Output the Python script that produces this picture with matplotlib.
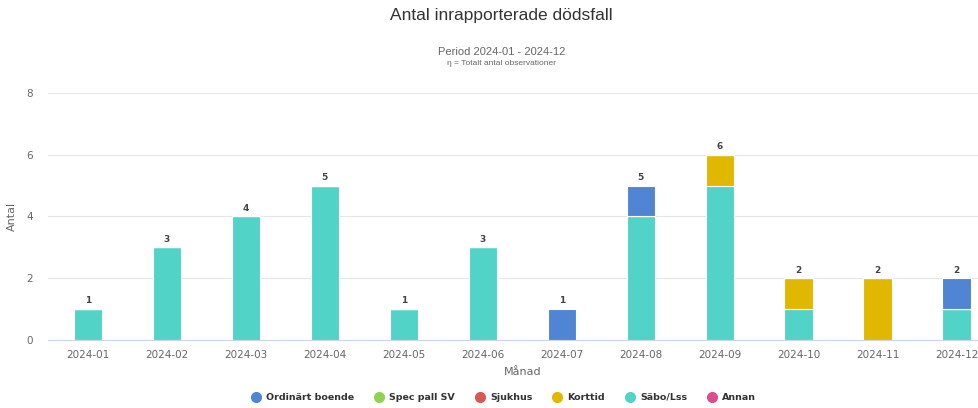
import numpy as np
import matplotlib
matplotlib.use("Agg")
import matplotlib.pyplot as plt
from matplotlib.lines import Line2D

# data
months = ["2024-01", "2024-02", "2024-03", "2024-04", "2024-05", "2024-06",
          "2024-07", "2024-08", "2024-09", "2024-10", "2024-11", "2024-12"]
ordinart = [0, 0, 0, 0, 0, 0, 1, 1, 0, 0, 0, 1]
spec_pall = [0, 0, 0, 0, 0, 0, 0, 0, 0, 0, 0, 0]
sjukhus = [0, 0, 0, 0, 0, 0, 0, 0, 0, 0, 0, 0]
korttid = [0, 0, 0, 0, 0, 0, 0, 0, 1, 1, 2, 0]
sabo = [1, 3, 4, 5, 1, 3, 0, 4, 5, 1, 0, 1]
annan = [0, 0, 0, 0, 0, 0, 0, 0, 0, 0, 0, 0]

names = ["Ordinärt boende", "Spec pall SV", "Sjukhus", "Korttid", "Säbo/Lss", "Annan"]
colors = ["#5085d4", "#90d252", "#d9584f", "#e0b800", "#52d3c7", "#d94f8c"]
series = [ordinart, spec_pall, sjukhus, korttid, sabo, annan]

fig = plt.figure(figsize=(9.79, 4.08), dpi=100)
ax = fig.add_axes([0.0495, 0.1667, 0.968, 0.6054])

x = np.arange(len(months))
bottom = np.zeros(len(months))
# highcharts stacks first series on top, so draw reversed
for vals, c in zip(series[::-1], colors[::-1]):
    vals = np.array(vals, dtype=float)
    ax.bar(x, vals, 0.36, bottom=bottom, color=c, edgecolor="white", linewidth=0.8, zorder=3)
    bottom += vals

for xi, tot in zip(x, bottom):
    ax.text(xi, tot + 0.12, str(int(tot)), ha="center", va="bottom",
            fontsize=6.5, fontweight="bold", color="#444444")

ax.set_xlim(-0.5, 11.5)
ax.set_ylim(0, 8)
ax.set_yticks([0, 2, 4, 6, 8])
ax.set_xticks(x)
ax.set_xticklabels(months)
ax.grid(axis="y", color="#e6e6e6", linewidth=0.8, zorder=0)
for s in ["top", "right", "left"]:
    ax.spines[s].set_visible(False)
ax.spines["bottom"].set_color("#ccd6eb")
ax.tick_params(axis="both", length=0, labelsize=7.5, colors="#666666")
ax.tick_params(axis="x", pad=7)
ax.tick_params(axis="y", pad=11)

ax.set_xlabel("Månad", fontsize=8, color="#666666", labelpad=5)
ax.set_ylabel("Antal", fontsize=8, color="#666666")
ax.yaxis.set_label_coords(-0.033, 0.5)

fig.text(0.512, 0.962, "Antal inrapporterade dödsfall", ha="center", va="center",
         fontsize=12.5, color="#333333", family=["Liberation Sans", "DejaVu Sans"])
fig.text(0.512, 0.873, "Period 2024-01 - 2024-12", ha="center", va="center",
         fontsize=8, color="#666666", family=["Liberation Sans", "DejaVu Sans"])
fig.text(0.512, 0.845, "η = Totalt antal observationer", ha="center", va="center",
         fontsize=6, color="#666666", family=["Liberation Sans", "DejaVu Sans"])

handles = [Line2D([0], [0], marker="o", linestyle="", markersize=7,
                  markerfacecolor=c, markeredgecolor=c) for c in colors]
fig.legend(handles, names, loc="center", bbox_to_anchor=(0.512, 0.026), ncol=6,
           frameon=False, handletextpad=0.1, columnspacing=1.6,
           prop={"size": 6.8, "weight": "bold"}, labelcolor="#333333")

fig.savefig("out.png", dpi=100)
